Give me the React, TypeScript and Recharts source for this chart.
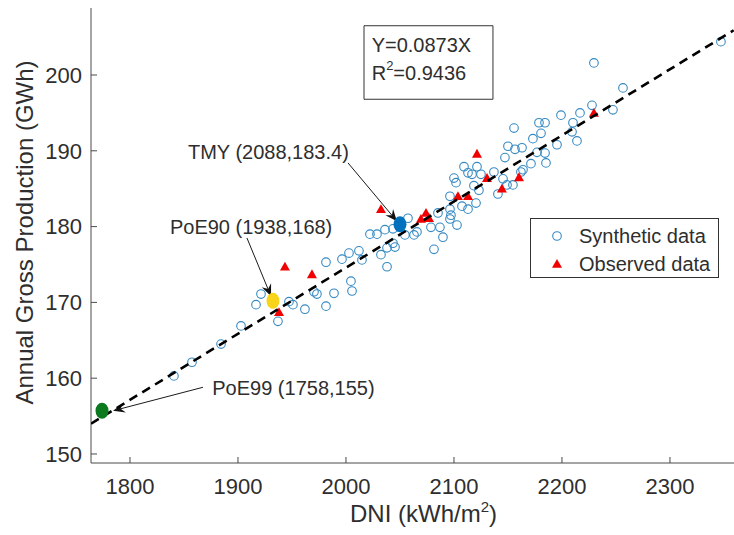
import React from 'react'
import { ScatterChart, Scatter, XAxis, YAxis, ReferenceArea, ReferenceLine, Legend } from 'recharts'

const FONT = '"Liberation Sans", Arial, Helvetica, sans-serif'
const AXIS = '#4a4a4a'
const TEXT = '#2e2e2e'
const CIRCLE = '#3589c2'
const RED = '#f00000'

// synthetic years: DNI (kWh/m2) and annual gross production (GWh)
const synthDni = [
  1840.7, 1857.4, 1884.3, 1902.8, 1916.7, 1921.3, 1937.0, 1947.2, 1950.9, 1962.0, 1970.4, 1973.1,
  1981.5, 1988.9, 2004.6, 2005.6,
  1981.5, 1996.3, 2002.8, 2012.0, 2014.8, 2022.2, 2028.7, 2032.4, 2038.0, 2036.1, 2043.5, 2038.0,
  2043.5, 2045.4, 2054.6, 2057.4,
  2063.0, 2065.7, 2078.7, 2081.5, 2085.2, 2087.0, 2089.8, 2096.3, 2096.3, 2097.2, 2096.3, 2102.8,
  2107.4, 2113.0, 2120.4,
  2100.0, 2101.9, 2109.3, 2113.0, 2116.7, 2121.3, 2125.0, 2118.5, 2123.1, 2140.7, 2145.4, 2149.1,
  2154.6,
  2229.6, 2227.8, 2247.2, 2216.7, 2199.1, 2178.7, 2184.3, 2155.6, 2180.6, 2210.2, 2209.3, 2213.9,
  2173.1, 2195.4, 2150.0, 2156.5, 2163.0, 2147.2, 2176.9, 2184.3, 2185.2, 2171.3, 2163.9, 2162.0,
  2137.0, 2256.5, 2347.2,
]
const synthGwh = [
  160.3, 162.1, 164.5, 166.9, 169.7, 171.1, 167.5, 170.1, 169.7, 169.1, 171.4, 171.1,
  169.5, 171.2, 172.8, 171.5,
  175.3, 175.7, 176.5, 176.8, 175.6, 179.0, 179.0, 176.3, 174.7, 179.6, 179.7, 177.2,
  177.8, 177.3, 178.9, 181.1,
  178.9, 179.3, 179.9, 177.0, 181.8, 179.9, 178.6, 184.0, 182.3, 181.5, 181.0, 180.2,
  182.7, 182.3, 183.1,
  186.4, 185.8, 187.9, 187.1, 186.9, 187.9, 186.9, 185.4, 184.8, 184.3, 186.3, 185.5,
  185.5,
  201.6, 196.0, 195.4, 195.0, 194.7, 193.7, 193.7, 193.0, 192.3, 193.7, 192.5, 191.3,
  191.6, 190.8, 190.6, 190.2, 190.4, 189.1, 189.8, 189.7, 188.4, 188.3, 187.5, 187.2,
  187.2, 198.3, 204.4,
]

// observed years
const obsDni = [1938.0, 1943.5, 1968.5, 2032.4, 2069.4, 2074.1, 2076.9, 2103.7, 2113.0, 2121.3, 2130.6, 2144.4, 2160.2, 2229.6]
const obsGwh = [168.7, 174.7, 173.7, 182.3, 181.0, 181.8, 181.1, 184.0, 184.0, 189.6, 186.4, 185.0, 186.5, 195.0]

// regression Y = 0.0873X
const fitDni = [1764, 2359]
const fitGwh = [154.0, 205.9]

const keyNames = ['PoE99', 'PoE90', 'TMY']
const keyDni = [1774.1, 1932.4, 2050.0]
const keyGwh = [155.7, 170.2, 180.3]
const keyColors = ['#0b7a1f', '#f8d41a', '#0072bd']

const noteText = ['TMY (2088,183.4)', 'PoE90 (1938,168)', 'PoE99 (1758,155)', 'Y=0.0873X', 'R2=0.9436']
const noteDni = [1853.7, 1837.0, 1876.2, 2023.8, 2023.8]
const noteGwh = [189.9, 179.9, 158.7, 204.0, 200.2]

const arrowFrom = [[2001.9, 188.4], [1908.3, 178.5], [1867.6, 158.8]]
const arrowTo = [[2047.2, 180.7], [1930.6, 170.8], [1784.3, 155.7]]

const xTicks = [1800, 1900, 2000, 2100, 2200, 2300]
const yTicks = [150, 160, 170, 180, 190, 200]

const synthRows = synthDni.map((x, i) => ({ x, y: synthGwh[i] }))
const obsRows = obsDni.map((x, i) => ({ x, y: obsGwh[i] }))
const fitRows = fitDni.map((x, i) => ({ x, y: fitGwh[i] }))
const keyRows = keyNames.map((name, i) => ({ name, x: keyDni[i], y: keyGwh[i], color: keyColors[i] }))
const noteRows = noteText.map((text, i) => ({ text, x: noteDni[i], y: noteGwh[i] }))

const OpenCircle = (p: any) => (
  <circle cx={p.cx} cy={p.cy} r={4.3} fill="none" stroke={CIRCLE} strokeWidth={1.1} />
)

const Triangle = (p: any) => (
  <polygon points={`${p.cx},${p.cy - 5} ${p.cx + 5},${p.cy + 3.8} ${p.cx - 5},${p.cy + 3.8}`} fill={RED} />
)

const KeyDot = (p: any) => <ellipse cx={p.cx} cy={p.cy} rx={6.5} ry={8} fill={p.payload.color} />

const Note = (p: any) => {
  const t: string = p.payload.text
  if (t.startsWith('R2')) {
    return (
      <text x={p.cx} y={p.cy} dominantBaseline="central" fontSize={20} fill={TEXT} fontFamily={FONT}>
        R<tspan dy={-8} fontSize={13}>2</tspan><tspan dy={8}>{t.slice(2)}</tspan>
      </text>
    )
  }
  return (
    <text x={p.cx} y={p.cy} dominantBaseline="central" fontSize={20} fill={TEXT} fontFamily={FONT}>{t}</text>
  )
}

const Arrow = (p: any) => {
  const { x1, y1, x2, y2 } = p
  const a = Math.atan2(y2 - y1, x2 - x1)
  const c = Math.cos(a), s = Math.sin(a)
  const len = 12, half = 5
  const bx = x2 - len * c, by = y2 - len * s
  const nx = x2 - len * 0.65 * c, ny = y2 - len * 0.65 * s
  return (
    <g>
      <line x1={x1} y1={y1} x2={nx} y2={ny} stroke="#1a1a1a" strokeWidth={1} />
      <polygon
        points={`${x2},${y2} ${bx - s * half},${by + c * half} ${nx},${ny} ${bx + s * half},${by - c * half}`}
        fill="#111"
      />
    </g>
  )
}

const LegendBox = () => (
  <svg width={189} height={60} style={{ display: 'block' }}>
    <rect x={0.5} y={0.5} width={188} height={59} fill="#fff" stroke="#333" strokeWidth={1} />
    <circle cx={27} cy={18} r={4.3} fill="none" stroke={CIRCLE} strokeWidth={1.1} />
    <polygon points="27,41 32,49.8 22,49.8" fill={RED} />
    <text x={49} y={18} dominantBaseline="central" fontSize={20} fill={TEXT} fontFamily={FONT}>Synthetic data</text>
    <text x={49} y={46} dominantBaseline="central" fontSize={20} fill={TEXT} fontFamily={FONT}>Observed data</text>
  </svg>
)

const XTitle = (p: any) => {
  const vb = p.viewBox
  return (
    <text x={vb.x + vb.width / 2 + 11} y={vb.y + 59} textAnchor="middle" fontSize={24} fill={TEXT} fontFamily={FONT}>
      DNI (kWh/m<tspan dy={-10} fontSize={15}>2</tspan><tspan dy={10}>)</tspan>
    </text>
  )
}

const YTitle = (p: any) => {
  const vb = p.viewBox
  const x = vb.x + 33
  const y = vb.y + vb.height / 2 - 3
  return (
    <text x={x} y={y} transform={`rotate(-90, ${x}, ${y})`} textAnchor="middle" fontSize={24} fill={TEXT} fontFamily={FONT}>
      Annual Gross Production (GWh)
    </text>
  )
}

export default function App() {
  return (
    <div style={{ position: 'absolute', left: 0, top: 0, width: 734, height: 535, background: '#fff', fontFamily: FONT }}>
      <ScatterChart width={734} height={535} margin={{ top: 8, right: 0, bottom: 0, left: 0 }}>
        <XAxis
          type="number"
          dataKey="x"
          domain={[1763.9, 2359.3]}
          allowDataOverflow
          ticks={xTicks}
          height={72}
          tickSize={-6}
          tickMargin={21}
          stroke={AXIS}
          tick={{ fontSize: 22, fill: TEXT, fontFamily: FONT }}
          label={XTitle}
        />
        <YAxis
          type="number"
          dataKey="y"
          domain={[148.81, 208.84]}
          allowDataOverflow
          ticks={yTicks}
          width={91}
          tickSize={-6}
          tickMargin={15}
          stroke={AXIS}
          tick={{ fontSize: 22, fill: TEXT, fontFamily: FONT }}
          label={YTitle}
        />
        <ReferenceArea x1={2016.7} x2={2136.1} y1={196.8} y2={206.5} fill="none" stroke="#333" strokeWidth={1} />
        <Scatter name="Synthetic data" data={synthRows} shape={OpenCircle} isAnimationActive={false} />
        <Scatter name="Observed data" data={obsRows} shape={Triangle} isAnimationActive={false} />
        <Scatter
          data={fitRows}
          fill="#000"
          line={{ stroke: '#000', strokeWidth: 2.6, strokeDasharray: '9 6' }}
          shape={() => <g />}
          isAnimationActive={false}
        />
        <Scatter data={keyRows} shape={KeyDot} isAnimationActive={false} />
        {arrowFrom.map((f, i) => (
          <ReferenceLine
            key={i}
            segment={[{ x: f[0], y: f[1] }, { x: arrowTo[i][0], y: arrowTo[i][1] }]}
            shape={Arrow}
          />
        ))}
        <Scatter data={noteRows} shape={Note} isAnimationActive={false} />
        <Legend
          layout="horizontal"
          verticalAlign="middle"
          align="center"
          content={LegendBox}
          wrapperStyle={{ left: 530, top: 218, width: 189, height: 60 }}
        />
      </ScatterChart>
    </div>
  )
}
